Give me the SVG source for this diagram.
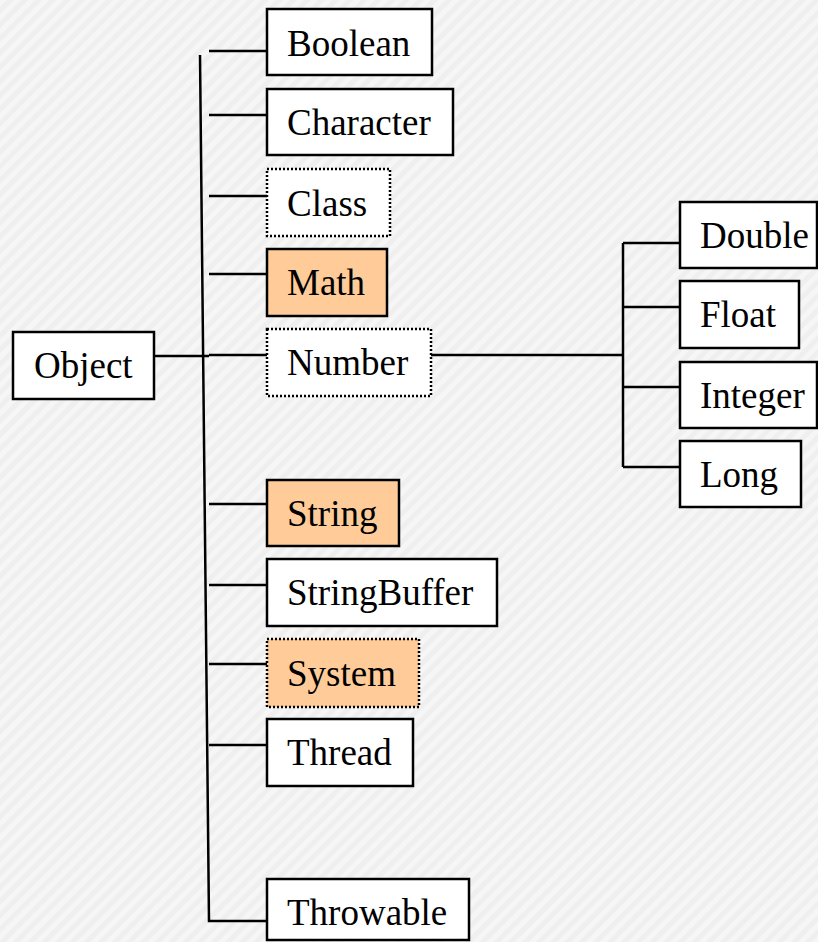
<svg xmlns="http://www.w3.org/2000/svg" width="818" height="942" viewBox="0 0 818 942">
  <defs>
    <pattern id="bgp" width="10" height="10" patternUnits="userSpaceOnUse" patternTransform="rotate(45)">
      <rect width="10" height="10" fill="#efefef"/>
      <rect width="5" height="10" fill="#f6f6f6"/>
    </pattern>
    <style>
      .box { fill: #ffffff; stroke: #000000; stroke-width: 2.5; }
      .dot { stroke-dasharray: 2 2; }
      .hl { fill: #ffcc99; }
      .lbl { font-family: "Liberation Serif", "Times New Roman", serif; font-size: 37px; fill: #000000; }
      .ln { stroke: #000000; stroke-width: 2.5; fill: none; }
    </style>
  </defs>
  <rect width="818" height="942" fill="url(#bgp)"/>

  <g id="connectors">
    <path class="ln" d="M200,55 L209,921 L267,921"/>
    <line class="ln" x1="154" y1="356" x2="209" y2="356"/>
    <line class="ln" x1="209" y1="51" x2="267" y2="51"/>
    <line class="ln" x1="209" y1="115" x2="267" y2="115"/>
    <line class="ln" x1="209" y1="196" x2="267" y2="196"/>
    <line class="ln" x1="209" y1="274" x2="267" y2="274"/>
    <line class="ln" x1="209" y1="355" x2="267" y2="355"/>
    <line class="ln" x1="209" y1="504" x2="267" y2="504"/>
    <line class="ln" x1="209" y1="585" x2="267" y2="585"/>
    <line class="ln" x1="209" y1="664" x2="267" y2="664"/>
    <line class="ln" x1="209" y1="745" x2="267" y2="745"/>
    <line class="ln" x1="431" y1="355" x2="623" y2="355"/>
    <line class="ln" x1="623" y1="243" x2="623" y2="467"/>
    <line class="ln" x1="623" y1="243" x2="680" y2="243"/>
    <line class="ln" x1="623" y1="307" x2="680" y2="307"/>
    <line class="ln" x1="623" y1="387" x2="680" y2="387"/>
    <line class="ln" x1="623" y1="467" x2="680" y2="467"/>
  </g>

  <g id="object"><rect class="box" x="13" y="332" width="141" height="67"/><text class="lbl" x="34" y="378">Object</text></g>
  <g id="boolean"><rect class="box" x="267" y="9" width="165" height="66"/><text class="lbl" x="287" y="56">Boolean</text></g>
  <g id="character"><rect class="box" x="267" y="89" width="186" height="66"/><text class="lbl" x="287" y="135">Character</text></g>
  <g id="class"><rect class="box dot" x="267" y="169" width="123" height="67"/><text class="lbl" x="287" y="216">Class</text></g>
  <g id="math"><rect class="box hl" x="267" y="249" width="120" height="67"/><text class="lbl" x="287" y="295">Math</text></g>
  <g id="number"><rect class="box dot" x="267" y="329" width="164" height="67"/><text class="lbl" x="287" y="375">Number</text></g>
  <g id="string"><rect class="box hl" x="267" y="480" width="132" height="66"/><text class="lbl" x="287" y="526">String</text></g>
  <g id="stringbuffer"><rect class="box" x="267" y="559" width="230" height="67"/><text class="lbl" x="287" y="605">StringBuffer</text></g>
  <g id="system"><rect class="box hl dot" x="267" y="639" width="152" height="68"/><text class="lbl" x="287" y="686">System</text></g>
  <g id="thread"><rect class="box" x="267" y="719" width="146" height="67"/><text class="lbl" x="287" y="765">Thread</text></g>
  <g id="throwable"><rect class="box" x="267" y="879" width="202" height="61"/><text class="lbl" x="287" y="925">Throwable</text></g>

  <g id="double"><rect class="box" x="680" y="202" width="137" height="66"/><text class="lbl" x="700" y="248">Double</text></g>
  <g id="float"><rect class="box" x="680" y="281" width="119" height="67"/><text class="lbl" x="700" y="327">Float</text></g>
  <g id="integer"><rect class="box" x="680" y="362" width="137" height="66"/><text class="lbl" x="700" y="408">Integer</text></g>
  <g id="long"><rect class="box" x="680" y="441" width="121" height="66"/><text class="lbl" x="700" y="487">Long</text></g>
</svg>
